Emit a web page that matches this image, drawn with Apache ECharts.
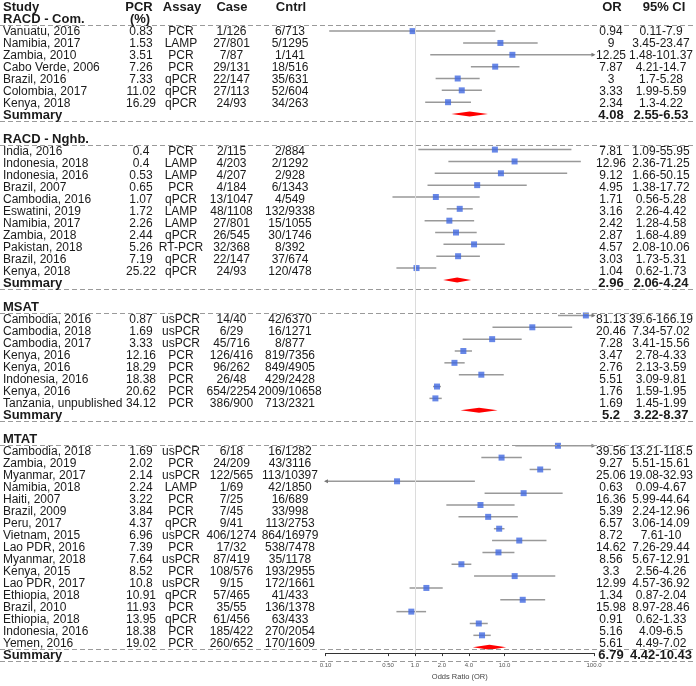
<!DOCTYPE html>
<html><head><meta charset="utf-8">
<script src="https://cdn.jsdelivr.net/npm/echarts@6/dist/echarts.min.js"></script>
<style>html,body{margin:0;padding:0;background:#fff}#c{width:696px;height:686px}</style>
</head><body><div id="c"></div>
<script>
const groupNames = ["RACD - Com.", "RACD - Nghb.", "MSAT", "MTAT"];
const groupSizes = [7, 11, 8, 17];
const studyNames = [
  "Vanuatu, 2016","Namibia, 2017","Zambia, 2010","Cabo Verde, 2006","Brazil, 2016","Colombia, 2017","Kenya, 2018",
  "India, 2016","Indonesia, 2018","Indonesia, 2016","Brazil, 2007","Cambodia, 2016","Eswatini, 2019","Namibia, 2017","Zambia, 2018","Pakistan, 2018","Brazil, 2016","Kenya, 2018",
  "Cambodia, 2016","Cambodia, 2018","Cambodia, 2017","Kenya, 2016","Kenya, 2016","Indonesia, 2016","Kenya, 2016","Tanzania, unpublished",
  "Cambodia, 2018","Zambia, 2019","Myanmar, 2017","Namibia, 2018","Haiti, 2007","Brazil, 2009","Peru, 2017","Vietnam, 2015","Lao PDR, 2016","Myanmar, 2018","Kenya, 2015","Lao PDR, 2017","Ethiopia, 2018","Brazil, 2010","Ethiopia, 2018","Indonesia, 2016","Yemen, 2016"
];
const pcrPct = [
  0.83,1.53,3.51,7.26,7.33,11.02,16.29,
  0.4,0.4,0.53,0.65,1.07,1.72,2.26,2.44,5.26,7.19,25.22,
  0.87,1.69,3.33,12.16,18.29,18.38,20.62,34.12,
  1.69,2.02,2.14,2.24,3.22,3.84,4.37,6.96,7.39,7.64,8.52,10.8,10.91,11.93,13.95,18.38,19.02
];
const assays = [
  "PCR","LAMP","PCR","PCR","qPCR","qPCR","qPCR",
  "PCR","LAMP","LAMP","PCR","qPCR","LAMP","LAMP","qPCR","RT-PCR","qPCR","qPCR",
  "usPCR","usPCR","usPCR","PCR","PCR","PCR","PCR","PCR",
  "usPCR","PCR","usPCR","LAMP","PCR","PCR","qPCR","usPCR","PCR","usPCR","PCR","usPCR","qPCR","PCR","qPCR","PCR","PCR"
];
const caseCounts = [
  "1/126","27/801","7/87","29/131","22/147","27/113","24/93",
  "2/115","4/203","4/207","4/184","13/1047","48/1108","27/801","26/545","32/368","22/147","24/93",
  "14/40","6/29","45/716","126/416","96/262","26/48","654/2254","386/900",
  "6/18","24/209","122/565","1/69","7/25","7/45","9/41","406/1274","17/32","87/419","108/576","9/15","57/465","35/55","61/456","185/422","260/652"
];
const cntrlCounts = [
  "6/713","5/1295","1/141","18/516","35/631","52/604","34/263",
  "2/884","2/1292","2/928","6/1343","4/549","132/9338","15/1055","30/1746","8/392","37/674","120/478",
  "42/6370","16/1271","8/877","819/7356","849/4905","429/2428","2009/10658","713/2321",
  "16/1282","43/3116","113/10397","42/1850","16/689","33/998","113/2753","864/16979","538/7478","35/1178","193/2955","172/1661","41/433","136/1378","63/433","270/2054","170/1609"
];
const oddsRatios = [
  0.94,9,12.25,7.87,3,3.33,2.34,
  7.81,12.96,9.12,4.95,1.71,3.16,2.42,2.87,4.57,3.03,1.04,
  81.13,20.46,7.28,3.47,2.76,5.51,1.76,1.69,
  39.56,9.27,25.06,0.63,16.36,5.39,6.57,8.72,14.62,8.56,3.3,12.99,1.34,15.98,0.91,5.16,5.61
];
const ciLower = [
  0.11,3.45,1.48,4.21,1.7,1.99,1.3,
  1.09,2.36,1.66,1.38,0.56,2.26,1.28,1.68,2.08,1.73,0.62,
  39.6,7.34,3.41,2.78,2.13,3.09,1.59,1.45,
  13.21,5.51,19.08,0.09,5.99,2.24,3.06,7.61,7.26,5.67,2.56,4.57,0.87,8.97,0.62,4.09,4.49
];
const ciUpper = [
  7.9,23.47,101.37,14.7,5.28,5.59,4.22,
  55.95,71.25,50.15,17.72,5.28,4.42,4.58,4.89,10.06,5.31,1.73,
  166.19,57.02,15.56,4.33,3.59,9.81,1.95,1.99,
  118.5,15.61,32.93,4.67,44.64,12.96,14.09,10,29.44,12.91,4.26,36.92,2.04,28.46,1.33,6.5,7.02
];
const summaryOR = [4.08, 2.96, 5.2, 6.79];
const summaryLower = [2.55, 2.06, 3.22, 4.42];
const summaryUpper = [6.53, 4.24, 8.37, 10.43];
const axisTickValues = [0.1, 0.5, 1, 2, 4, 10, 100];
const axisTickLabels = ["0.10", "0.50", "1.0", "2.0", "4.0", "10.0", "100.0"];
const headerLabels = ["Study", "PCR", "Assay", "Case", "Cntrl", "OR", "95% CI"];
const headerSubLabel = "(%)";
const summaryLabel = "Summary";
const axisTitle = "Odds Ratio (OR)";

// ---- layout (row indices) ----
const studyRow = [], groupRow = [], summaryRow = [];
(function () {
  let r = -1;
  groupSizes.forEach(function (n) {
    groupRow.push(r); r++;
    for (let i = 0; i < n; i++) { studyRow.push(r); r++; }
    summaryRow.push(r); r++;
    r++;
  });
})();
const ROW_MIN = -2.5, ROW_MAX = 52.5;

const FONT = '"Liberation Sans", Arial, Helvetica, sans-serif';
const REG = '12px ' + FONT;
const BOLD = 'bold 13px ' + FONT;
const colX = { study: 3, pcr: 141, assay: 181, cs: 231.5, cn: 290, or: 611, ci: 661 };
const headX = [3, 139, 182, 232, 291, 612, 664];

const textItems = [];
function addText(x, k, text, align, font) { textItems.push({ x: x, k: k, text: String(text), align: align, font: font }); }
headerLabels.forEach(function (h, i) { addText(headX[i], -2, h, i === 0 ? 'left' : 'center', BOLD); });
addText(140, -1, headerSubLabel, 'center', BOLD);
groupNames.forEach(function (g, gi) {
  addText(colX.study, groupRow[gi], g, 'left', BOLD);
  addText(colX.study, summaryRow[gi], summaryLabel, 'left', BOLD);
  addText(colX.or, summaryRow[gi], summaryOR[gi], 'center', BOLD);
  addText(colX.ci, summaryRow[gi], summaryLower[gi] + '-' + summaryUpper[gi], 'center', BOLD);
});
studyNames.forEach(function (s, i) {
  const k = studyRow[i];
  addText(colX.study, k, s, 'left', REG);
  addText(colX.pcr, k, pcrPct[i], 'center', REG);
  addText(colX.assay, k, assays[i], 'center', REG);
  addText(colX.cs, k, caseCounts[i], 'center', REG);
  addText(colX.cn, k, cntrlCounts[i], 'center', REG);
  addText(colX.or, k, oddsRatios[i], 'center', REG);
  addText(colX.ci, k, ciLower[i] + '-' + ciUpper[i], 'center', REG);
});

const dashRows = [];
groupRow.forEach(function (k) { dashRows.push(k + 0.5); });
summaryRow.forEach(function (k) { dashRows.push(k + 0.5); });
dashRows.push(summaryRow[summaryRow.length - 1] - 0.5);

const XMIN = 0.1, XMAX = 100;

const chart = echarts.init(document.getElementById('c'), null, { renderer: 'canvas' });
chart.setOption({
  animation: false,
  backgroundColor: '#fff',
  grid: [
    { left: 0, width: 696, top: 1.5, height: 660 },
    { left: 325.5, width: 268.5, top: 1.5, height: 660 }
  ],
  xAxis: [
    { type: 'value', gridIndex: 0, min: 0, max: 696, show: false },
    {
      type: 'log', gridIndex: 1, min: XMIN, max: XMAX, logBase: 10,
      axisLine: { show: true, onZero: false, lineStyle: { color: '#333', width: 1 } },
      axisTick: { show: true, length: 3, customValues: axisTickValues, lineStyle: { color: '#333' } },
      minorTick: { show: false },
      splitLine: { show: false },
      axisLabel: {
        show: true, customValues: axisTickValues, fontSize: 6, color: '#555', margin: 9,
        fontFamily: FONT,
        formatter: function (v) {
          for (let i = 0; i < axisTickValues.length; i++) {
            if (Math.abs(Math.log10(axisTickValues[i]) - Math.log10(v)) < 1e-6) return axisTickLabels[i];
          }
          return '';
        }
      },
      name: axisTitle, nameLocation: 'middle', nameGap: 13,
      nameTextStyle: { fontSize: 7.5, color: '#444', fontFamily: FONT }
    }
  ],
  yAxis: [
    { type: 'value', gridIndex: 0, inverse: true, min: ROW_MIN, max: ROW_MAX, show: false },
    { type: 'value', gridIndex: 1, inverse: true, min: ROW_MIN, max: ROW_MAX, show: false }
  ],
  series: [
    {
      type: 'scatter', xAxisIndex: 0, yAxisIndex: 0, data: [], silent: true, z: 1,
      markLine: {
        silent: true, symbol: 'none', animation: false,
        label: { show: false },
        lineStyle: { color: '#9a9a9a', width: 1, type: [5, 3] },
        data: dashRows.map(function (k) { return { yAxis: k }; })
      }
    },
    {
      type: 'scatter', xAxisIndex: 1, yAxisIndex: 1, data: [], silent: true, z: 1,
      markLine: {
        silent: true, symbol: 'none', animation: false,
        label: { show: false },
        lineStyle: { color: '#dcdcdc', width: 1, type: 'solid' },
        data: [[{ coord: [1, -0.5] }, { coord: [1, ROW_MAX] }]]
      }
    },
    {
      type: 'custom', xAxisIndex: 1, yAxisIndex: 1, clip: false, silent: true, z: 3,
      encode: { x: [0, 1], y: 2 },
      data: studyNames.map(function (s, i) { return [ciLower[i], ciUpper[i], studyRow[i]]; }),
      renderItem: function (params, api) {
        const lo = api.value(0), hi = api.value(1), k = api.value(2);
        const a = api.coord([Math.max(lo, XMIN), k]);
        const b = api.coord([Math.min(hi, XMAX), k]);
        const ch = [{ type: 'line', shape: { x1: a[0], y1: a[1], x2: b[0], y2: b[1] }, style: { stroke: '#999', lineWidth: 1.5 } }];
        if (hi > XMAX) ch.push({ type: 'polygon', shape: { points: [[b[0] + 1.5, b[1]], [b[0] - 2.5, b[1] - 2], [b[0] - 2.5, b[1] + 2]] }, style: { fill: '#777' } });
        if (lo < XMIN) ch.push({ type: 'polygon', shape: { points: [[a[0] - 1.5, a[1]], [a[0] + 2.5, a[1] - 2], [a[0] + 2.5, a[1] + 2]] }, style: { fill: '#777' } });
        return { type: 'group', children: ch };
      }
    },
    {
      type: 'scatter', xAxisIndex: 1, yAxisIndex: 1, silent: true, z: 4,
      symbol: 'rect', symbolSize: 6,
      itemStyle: { color: '#4169E1' },
      data: studyNames.map(function (s, i) { return [oddsRatios[i], studyRow[i]]; })
    },
    {
      type: 'custom', xAxisIndex: 1, yAxisIndex: 1, clip: false, silent: true, z: 4,
      encode: { x: [0, 1, 2], y: 3 },
      data: summaryOR.map(function (v, g) { return [summaryLower[g], summaryUpper[g], v, summaryRow[g]]; }),
      renderItem: function (params, api) {
        const k = api.value(3);
        const l = api.coord([api.value(0), k]);
        const r = api.coord([api.value(1), k]);
        const m = api.coord([api.value(2), k]);
        return { type: 'polygon', shape: { points: [[l[0], l[1]], [m[0], m[1] - 2.5], [r[0], r[1]], [m[0], m[1] + 2.5]] }, style: { fill: '#ff0000' } };
      }
    },
    {
      type: 'custom', xAxisIndex: 0, yAxisIndex: 0, clip: false, silent: true, z: 5,
      encode: { x: 0, y: 1 },
      data: textItems.map(function (t) { return [t.x, t.k]; }),
      renderItem: function (params, api) {
        const t = textItems[params.dataIndex];
        const p = api.coord([api.value(0), api.value(1)]);
        return { type: 'text', x: p[0], y: p[1], style: { text: t.text, x: 0, y: 0, align: t.align, verticalAlign: 'middle', font: t.font, fill: '#1a1a1a' } };
      }
    }
  ]
});
</script>
</body></html>
